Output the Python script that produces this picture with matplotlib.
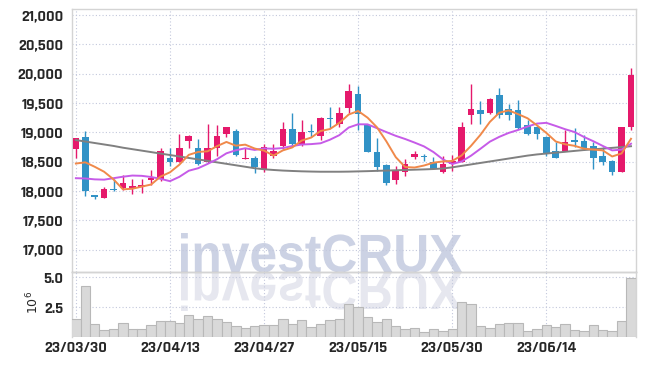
import numpy as np
import matplotlib
matplotlib.use('Agg')
import matplotlib.pyplot as plt
from matplotlib import font_manager
from matplotlib.textpath import TextPath
from matplotlib.patches import PathPatch
from matplotlib.font_manager import FontProperties
from matplotlib.transforms import Affine2D, IdentityTransform

# trading days (yy/mm/dd)
dates = ['23/03/30', '23/03/31', '23/04/03', '23/04/04', '23/04/05', '23/04/06', '23/04/07', '23/04/10',
         '23/04/11', '23/04/12', '23/04/13', '23/04/14', '23/04/17', '23/04/18', '23/04/19', '23/04/20',
         '23/04/21', '23/04/24', '23/04/25', '23/04/26', '23/04/27', '23/04/28', '23/05/02', '23/05/03',
         '23/05/04', '23/05/08', '23/05/09', '23/05/10', '23/05/11', '23/05/12', '23/05/15', '23/05/16',
         '23/05/17', '23/05/18', '23/05/19', '23/05/22', '23/05/23', '23/05/24', '23/05/25', '23/05/26',
         '23/05/30', '23/05/31', '23/06/01', '23/06/02', '23/06/05', '23/06/07', '23/06/08', '23/06/09',
         '23/06/12', '23/06/13', '23/06/14', '23/06/15', '23/06/16', '23/06/19', '23/06/20', '23/06/21',
         '23/06/22', '23/06/23', '23/06/26', '23/06/27']

opens = [18720, 18930, 17930, 17890, 18030, 18060, 18060, 18065, 18190, 18200,
         18570, 18500, 18850, 18740, 18500, 18730, 18980, 19020, 18550, 18560,
         18380, 18600, 18770, 19060, 18810, 19030, 18940, 19250, 19150, 19410,
         19650, 19130, 18660, 18440, 18190, 18320, 18580, 18600, 18500, 18320,
         18460, 18500, 19290, 19380, 19330, 19640, 19400, 19380, 19130, 19100,
         18930, 18690, 18690, 18870, 18860, 18770, 18590, 18510, 18330, 19100]
highs = [18910, 19020, 17940, 18070, 18200, 18270, 18200, 18210, 18360, 18730,
         18740, 18980, 18950, 18880, 19150, 19120, 19100, 19060, 18730, 18600,
         18810, 18800, 19170, 19340, 19210, 19150, 19270, 19430, 19440, 19830,
         19790, 19140, 18910, 18470, 18420, 18550, 18680, 18630, 18580, 18600,
         18610, 19180, 19820, 19540, 19580, 19750, 19480, 19560, 19210, 19110,
         18940, 18830, 19050, 19070, 18960, 18840, 18760, 18530, 19100, 20100]
lows = [18560, 17920, 17860, 17880, 18000, 18010, 17950, 17960, 18110, 18180,
        18420, 18490, 18730, 18440, 18480, 18590, 18930, 18600, 18540, 18300,
        18330, 18560, 18710, 18750, 18770, 18930, 18870, 19070, 19100, 19340,
        19040, 18660, 18340, 18110, 18120, 18260, 18540, 18520, 18370, 18310,
        18350, 18490, 19150, 19150, 19320, 19250, 19220, 19060, 18950, 18890,
        18600, 18560, 18680, 18750, 18700, 18370, 18440, 18270, 18320, 19050]
closes = [18900, 18000, 17900, 18040, 18010, 18140, 18090, 18100, 18220, 18690,
          18500, 18740, 18940, 18470, 18740, 18940, 19100, 18620, 18560, 18410,
          18760, 18680, 19060, 18810, 19000, 19010, 19240, 19230, 19340, 19710,
          19310, 18670, 18410, 18140, 18360, 18470, 18630, 18580, 18380, 18470,
          18510, 19100, 19400, 19320, 19570, 19290, 19300, 19080, 18970, 18970,
          18640, 18570, 18840, 18840, 18730, 18560, 18500, 18320, 19100, 19980]

# volume in millions of shares
volume = [1.50, 4.28, 1.11, 0.61, 0.69, 1.19, 0.69, 0.69, 1.03, 1.33,
          1.33, 1.19, 1.86, 1.53, 1.78, 1.50, 1.25, 0.94, 0.78, 0.94,
          1.03, 1.03, 1.50, 1.11, 1.42, 0.83, 1.11, 1.42, 1.50, 2.75,
          2.53, 1.67, 1.28, 1.50, 0.94, 0.67, 0.75, 0.47, 0.67, 0.53,
          0.67, 2.97, 2.75, 0.92, 0.75, 1.08, 1.17, 1.17, 0.50, 0.67,
          1.00, 0.83, 1.08, 0.58, 0.53, 1.00, 0.58, 0.50, 1.33, 4.94]

# moving averages as shown on the chart
ma_short = [18470, 18490, 18415, 18330, 18200, 18030, 18040, 18076, 18112, 18248,
            18320, 18450, 18618, 18668, 18678, 18766, 18838, 18774, 18792, 18726,
            18690, 18606, 18694, 18744, 18862, 18912, 19024, 19058, 19164, 19306,
            19366, 19252, 19088, 18848, 18578, 18410, 18402, 18436, 18484, 18506,
            18514, 18608, 18772, 18960, 19180, 19336, 19376, 19312, 19242, 19122,
            18992, 18846, 18798, 18772, 18724, 18708, 18694, 18590, 18642, 18892]
ma_mid = [18220, 18215, 18200, 18195, 18220, 18245, 18265, 18260, 18240, 18209,
          18169, 18243, 18347, 18390, 18463, 18543, 18644, 18696, 18730, 18702,
          18728, 18722, 18734, 18768, 18794, 18801, 18815, 18876, 18954, 19084,
          19139, 19138, 19073, 19006, 18942, 18888, 18827, 18762, 18666, 18542,
          18462, 18505, 18604, 18722, 18843, 18925, 18992, 19042, 19101, 19151,
          19164, 19111, 19055, 19007, 18923, 18850, 18770, 18694, 18707, 18808]
ma_long = [18870, 18845, 18820, 18795, 18770, 18740, 18715, 18690, 18665, 18640,
           18615, 18590, 18565, 18540, 18515, 18490, 18465, 18440, 18415, 18390,
           18372, 18360, 18350, 18343, 18337, 18333, 18330, 18330, 18330, 18332,
           18336, 18340, 18345, 18350, 18355, 18360, 18365, 18370, 18376, 18385,
           18405, 18430, 18455, 18480, 18505, 18530, 18555, 18580, 18605, 18625,
           18640, 18655, 18670, 18685, 18700, 18712, 18724, 18737, 18750, 18765]

UP = '#e5196b'
DOWN = '#3192c6'
GRID = '#c3c8dc'
SPINE = '#d4d4d4'
TXT = '#262626'


# pick a narrow font for the labels, whichever is installed
def have_font(name):
    try:
        font_manager.findfont(FontProperties(family=name), fallback_to_default=False)
        return True
    except Exception:
        return False


label_font = 'DejaVu Sans'
label_size = 9
for name, size in [('Rajdhani', 11.5), ('Saira SemiCondensed', 9.5), ('Archivo Narrow', 10.5)]:
    if have_font(name):
        label_font, label_size = name, size
        break
plt.rcParams['font.family'] = [label_font, 'DejaVu Sans']

fig = plt.figure(figsize=(6.45, 3.66), dpi=100)
ax = fig.add_axes([0.1112, 0.2560, 0.8744, 0.7186])
axv = fig.add_axes([0.1112, 0.0784, 0.8744, 0.1776], sharex=ax)
for a in (ax, axv):
    a.set_facecolor('none')

# watermark with mirrored reflection, in pixel coords
fp = FontProperties(family='Liberation Sans', weight='bold')
tp = TextPath((0, 0), 'investCRUX', size=100, prop=fp)
ext = tp.get_extents()
sx = 281 / ext.width
sy = 39 / ext.y1
base = 366 - 272
wm = Affine2D().translate(-ext.x0, 0).scale(sx, sy).translate(181, base)
wm_ref = Affine2D().translate(-ext.x0, 0).scale(sx, -sy).translate(181, base)
fig.add_artist(PathPatch(wm.transform_path(tp), transform=IdentityTransform(),
                         color='#ccd2e4', lw=0, zorder=-2))
fig.add_artist(PathPatch(wm_ref.transform_path(tp), transform=IdentityTransform(),
                         color='#e6e7ef', lw=0, zorder=-2))

x = np.arange(len(closes))
o = np.array(opens)
c = np.array(closes)
cols = np.where(c >= o, UP, DOWN)

# candles
ax.vlines(x, lows, highs, colors=cols, lw=1, zorder=3)
ax.bar(x, np.maximum(np.abs(c - o), 20), 0.7, bottom=np.minimum(o, c), color=cols, lw=0, zorder=4)

# moving averages
ax.plot(x, ma_long, color='#808080', lw=1.4, zorder=5)
ax.plot(x, ma_mid, color='#c65be8', lw=1.4, zorder=5)
ax.plot(x, ma_short, color='#f0894a', lw=1.4, zorder=5)

# volume
axv.bar(x, volume, 1.0, color='#d9d9d9', edgecolor='#b8b8b8', lw=0.8, zorder=3)

ax.set_xlim(-0.44, 59.5)
ax.set_ylim(16615, 21100)
axv.set_ylim(0, 5.42)

ax.set_yticks(range(17000, 21001, 500))
ax.set_yticklabels(['{:,}'.format(v) for v in range(17000, 21001, 500)])
axv.set_yticks([2.5, 5.0])
axv.set_yticklabels(['2.5', '5.0'])
axv.set_xticks(x[::10])
axv.set_xticklabels(dates[::10])
ax.tick_params(axis='x', labelbottom=False)

for a in (ax, axv):
    a.tick_params(length=0, pad=6, labelsize=label_size, colors=TXT)
    a.grid(True, ls=(0, (1, 2)), color=GRID, lw=0.8)
    a.set_axisbelow(True)
    for s in a.spines.values():
        s.set_color(SPINE)
        s.set_linewidth(1)
axv.tick_params(axis='x', pad=3)
ax.spines['bottom'].set_color('#bdbdbd')
axv.spines['bottom'].set_visible(False)

for lab in ax.get_yticklabels() + axv.get_yticklabels() + axv.get_xticklabels():
    lab.set_fontweight('bold')

fig.text(33 / 645, 1 - 302 / 366, r'$10^6$', rotation=90, ha='center', va='center',
         fontsize=9, color=TXT)

fig.savefig('out.png', dpi=100)
